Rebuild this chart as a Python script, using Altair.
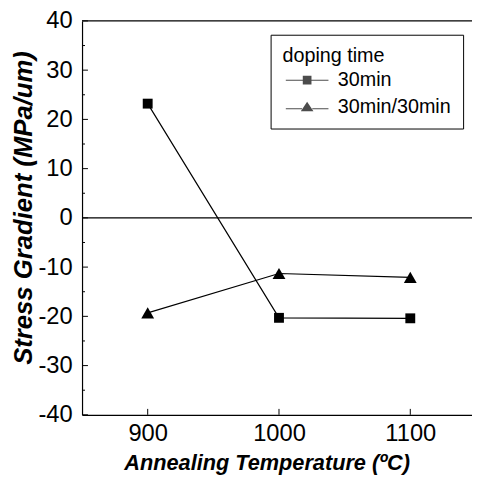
import altair as alt
import pandas as pd

# ---- data ----
temps = [900, 1000, 1100]
series_names = ["30min", "30min/30min"]
stress_30 = [23.2, -20.3, -20.4]
stress_3030 = [-19.3, -11.3, -12.1]

x_ticks = [900, 1000, 1100]
y_ticks = [-40, -30, -20, -10, 0, 10, 20, 30, 40]
y_minor = [-35, -25, -15, -5, 5, 15, 25, 35]
x_domain = [850, 1147]
y_domain = [-40, 40]

rows = []
for t, v in zip(temps, stress_30):
    rows.append({"T": t, "S": v, "series": series_names[0]})
for t, v in zip(temps, stress_3030):
    rows.append({"T": t, "S": v, "series": series_names[1]})
df = pd.DataFrame(rows)

W, H = 395, 399
FONT = "Liberation Sans"

xs = alt.Scale(domain=x_domain, nice=False, zero=False)
ys = alt.Scale(domain=y_domain, nice=False, zero=False)

x_axis = alt.Axis(
    values=x_ticks, title="Annealing Temperature (\u00baC)", grid=False, ticks=False,
    domainColor="black", domainWidth=1.2, labelFont=FONT, labelFontSize=24, labelColor="black",
    labelPadding=7, labelExpr="'' + datum.value",
    titleFont=FONT, titleFontSize=22, titleFontWeight="bold",
    titleFontStyle="italic", titleColor="black", titleX=187, titleY=48,
    titleBaseline="middle", titleAlign="center", labelFlush=False,
)
y_axis = alt.Axis(
    values=y_ticks, title="Stress Gradient (MPa/um)", grid=False, ticks=False,
    domainColor="black", domainWidth=1.2, labelFont=FONT, labelFontSize=24, labelColor="black",
    labelPadding=10, labelExpr="'' + datum.value",
    titleFont=FONT, titleFontSize=26, titleFontWeight="bold",
    titleFontStyle="italic", titleColor="black", titleX=-59, titleY=189,
    titleBaseline="middle", titleAlign="center", titleAngle=270, labelFlush=False,
)

base = alt.Chart(df)

lines = base.mark_line(color="black", strokeWidth=1.2).encode(
    x=alt.X("T:Q", scale=xs, axis=x_axis),
    y=alt.Y("S:Q", scale=ys, axis=y_axis),
    detail="series:N",
)

points = base.mark_point(filled=True, color="black", opacity=1).encode(
    x=alt.X("T:Q", scale=xs),
    y=alt.Y("S:Q", scale=ys),
    shape=alt.Shape("series:N", scale=alt.Scale(domain=series_names, range=["square", "triangle-up"]), legend=None),
    size=alt.Size("series:N", scale=alt.Scale(domain=series_names, range=[100, 170]), legend=None),
)

# legend symbols: line - marker - line, drawn as filled shapes
sq_path = "M-5.4,-0.13H-1V0.13H-5.4ZM1,-0.13H5.4V0.13H1ZM-1.1,-1.1H1.1V1.1H-1.1Z"
tri_path = "M-5.4,0.37H-1.3V0.63H-5.4ZM1.3,0.37H5.4V0.63H1.3ZM0,-1.25L1.6,1.15L-1.6,1.15Z"

legend_layer = base.mark_point(filled=True, color="black", clip=True).encode(
    x=alt.X("T:Q", scale=xs),
    y=alt.value(-300),
    shape=alt.Shape(
        "series:N",
        scale=alt.Scale(domain=series_names, range=[sq_path, tri_path]),
        legend=alt.Legend(
            title="doping time", orient="none", legendX=191, legendY=14,
            padding=12, strokeColor="black", fillColor="white", cornerRadius=0,
            titleFont=FONT, titleFontSize=20, titleFontWeight="normal", titleColor="black",
            titlePadding=4, labelFont=FONT, labelFontSize=20, labelColor="black",
            symbolSize=64, symbolFillColor="black", symbolStrokeColor="black",
            symbolStrokeWidth=0, symbolOffset=15, labelOffset=21, rowPadding=7,
        ),
    ),
)

zero_df = pd.DataFrame({"y": [0]})
top_df = pd.DataFrame({"y": [y_ticks[-1]]})
zero_line = alt.Chart(zero_df).mark_rule(color="black", strokeWidth=1.2).encode(
    y=alt.Y("y:Q", scale=ys), x=alt.value(0), x2=alt.value(W)
)
top_line = alt.Chart(top_df).mark_rule(color="black", strokeWidth=1.2).encode(
    y=alt.Y("y:Q", scale=ys), x=alt.value(0), x2=alt.value(W)
)

ymaj_df = pd.DataFrame({"y": y_ticks})
ymin_df = pd.DataFrame({"y": y_minor})
xmaj_df = pd.DataFrame({"x": x_ticks})
ymaj = alt.Chart(ymaj_df).mark_rule(color="black", strokeWidth=1).encode(
    y=alt.Y("y:Q", scale=ys), x=alt.value(0), x2=alt.value(6)
)
ymin = alt.Chart(ymin_df).mark_rule(color="black", strokeWidth=1).encode(
    y=alt.Y("y:Q", scale=ys), x=alt.value(0), x2=alt.value(3)
)
xmaj = alt.Chart(xmaj_df).mark_rule(color="black", strokeWidth=1).encode(
    x=alt.X("x:Q", scale=xs), y=alt.value(H), y2=alt.value(H - 6)
)

chart = (
    alt.layer(lines, zero_line, top_line, ymaj, ymin, xmaj, points, legend_layer)
    .resolve_scale(shape="independent", size="independent")
    .properties(
        width=W, height=H,
        padding={"left": 75, "top": 10, "right": 0, "bottom": 68},
        autosize=alt.AutoSizeParams(type="none"),
        background="white",
    )
    .configure_view(stroke=None)
)

chart.save("out.html", embed_options={"renderer": "svg", "actions": False})
